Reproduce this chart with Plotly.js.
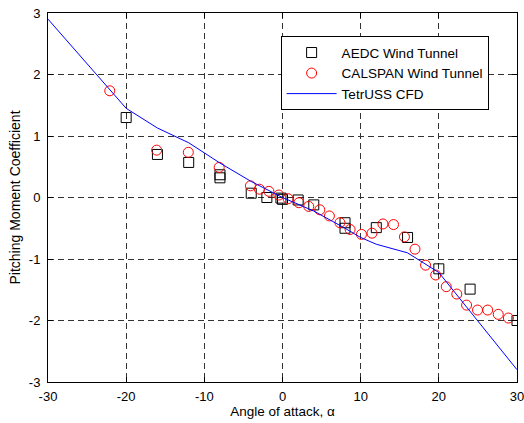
<!DOCTYPE html>
<html>
<head>
<meta charset="utf-8">
<script src="https://cdn.plot.ly/plotly-3.0.1.min.js"></script>
<style>html,body{margin:0;padding:0;background:#fff;}#chart{width:524px;height:423px;}</style>
</head>
<body>
<div id="chart"></div>
<script>
// AEDC Wind Tunnel
var aedcAlpha = [-20, -16, -12, -8, -8, -4, -2, -0.2, 0, 2, 4, 8, 8, 12, 16, 20, 24, 30];
var aedcCm    = [1.30, 0.70, 0.57, 0.37, 0.32, 0.07, 0.0, -0.01, -0.03, -0.04, -0.12, -0.41, -0.50, -0.49, -0.65, -1.16, -1.49, -2.0];

// CALSPAN Wind Tunnel
var calAlpha = [-22.1, -16.1, -12.05, -8.1, -4.1, -2.95, -1.74, -0.47, 0.72, 2.1, 3.36, 4.77, 6.0, 7.35, 8.65, 10.1, 11.45, 12.85, 14.2, 15.6, 16.95, 18.3, 19.6, 20.95, 22.3, 23.55, 24.95, 26.25, 27.6, 28.9];
var calCm    = [1.735, 0.77, 0.735, 0.49, 0.19, 0.135, 0.10, 0.04, -0.02, -0.085, -0.145, -0.20, -0.30, -0.41, -0.52, -0.60, -0.58, -0.43, -0.44, -0.64, -0.84, -1.10, -1.26, -1.45, -1.57, -1.75, -1.83, -1.83, -1.90, -1.96];

// TetrUSS CFD
var cfdAlpha = [-30, -20, -16, -12, -8, -4, 0, 4, 8, 10, 12, 16, 20, 30];
var cfdCm    = [2.90, 1.45, 1.13, 0.89, 0.56, 0.26, 0.0, -0.22, -0.50, -0.65, -0.76, -0.90, -1.22, -2.80];

var xTicks = [-30, -20, -10, 0, 10, 20, 30];
var yTicks = [-3, -2, -1, 0, 1, 2, 3];

var FONT = 'Liberation Sans, Arial, Helvetica, sans-serif';

var traces = [
  {x: aedcAlpha, y: aedcCm, mode: 'markers', type: 'scatter', name: 'AEDC Wind Tunnel',
   marker: {symbol: 'square-open', size: 10, color: '#000000', line: {width: 1}}},
  {x: calAlpha, y: calCm, mode: 'markers', type: 'scatter', name: 'CALSPAN Wind Tunnel',
   marker: {symbol: 'circle-open', size: 10, color: '#ff0000', line: {width: 1}}},
  {x: cfdAlpha, y: cfdCm, mode: 'lines', type: 'scatter', name: 'TetrUSS CFD',
   line: {color: '#0000ff', width: 1}}
];

var axisCommon = {
  showline: true, linecolor: '#000', linewidth: 1, mirror: 'ticks',
  ticks: 'inside', ticklen: 5, tickcolor: '#000',
  showgrid: true, gridcolor: '#333', griddash: '6px,4px', gridwidth: 1,
  zeroline: false, ticklabeloverflow: 'allow',
  tickfont: {family: FONT, size: 13, color: '#000'}
};

var layout = {
  width: 524, height: 423,
  margin: {l: 48, r: 6.5, t: 12.7, b: 40.7},
  paper_bgcolor: '#fff', plot_bgcolor: '#fff',
  font: {family: FONT, size: 13, color: '#000'},
  xaxis: Object.assign({}, axisCommon, {range: [-30, 30], tickvals: xTicks, ticktext: xTicks.map(String),
    ticklabelstandoff: 2,
    title: {text: 'Angle of attack, α', font: {size: 13.5}, standoff: 2}}),
  yaxis: Object.assign({}, axisCommon, {range: [-3, 3], tickvals: yTicks, ticktext: yTicks.map(String),
    ticklabelstandoff: 4,
    title: {text: 'Pitching Moment Coefficient', font: {size: 14}, standoff: 4}}),
  showlegend: true,
  legend: {x: 0.496, y: 0.937, xanchor: 'left', yanchor: 'top', bgcolor: '#fff',
    bordercolor: '#000', borderwidth: 1, font: {size: 13.5}, itemwidth: 50, tracegroupgap: 0}
};

Plotly.newPlot('chart', traces, layout, {displayModeBar: false, staticPlot: true});
</script>
</body>
</html>
